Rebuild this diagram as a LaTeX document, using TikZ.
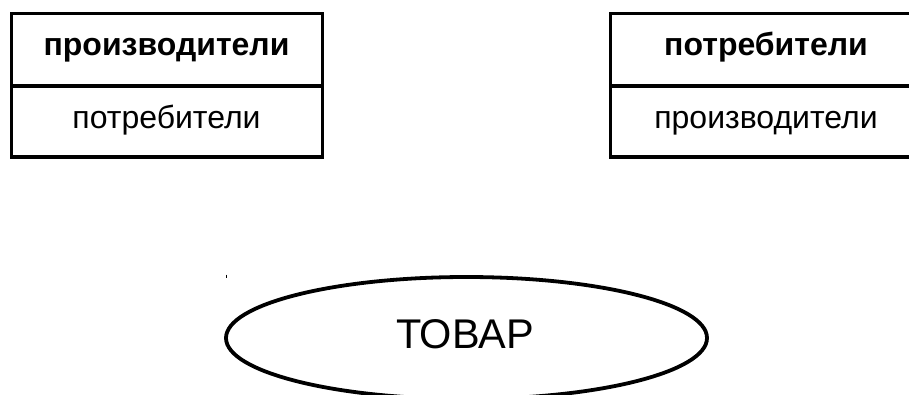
\documentclass[tikz,border=0pt]{standalone}
\usepackage{fontspec}
\setmainfont{Liberation Sans}
\usetikzlibrary{shapes.geometric}
\begin{document}
\begin{tikzpicture}[x=1pt,y=-1pt,
  cell/.style={draw,line width=3.3pt,minimum width=311pt,inner sep=0pt,outer sep=0pt},
  celltext/.style={anchor=base,font=\fontsize{32}{38}\selectfont,inner sep=0pt},
  headtext/.style={celltext,font=\fontsize{32}{38}\selectfont\bfseries},
  oval/.style={draw,line width=3.8pt,ellipse,minimum width=481pt,minimum height=122pt,inner sep=0pt}]
\useasboundingbox (0,0) rectangle (909,394);
\clip (0,0) rectangle (909,394);
% left box
\node[cell,minimum height=72.5pt] (lt) at (166.75,49.75) {};
\node[cell,minimum height=71pt] (lb) at (166.75,121.5) {};
\node[headtext] (ltt) at (166.5,55) {производители};
\node[celltext] (lbt) at (166.5,128) {потребители};
% right box
\node[cell,minimum height=72.5pt] (rt) at (766,49.75) {};
\node[cell,minimum height=71pt] (rb) at (766,121.5) {};
\node[headtext] (rtt) at (766,55) {потребители};
\node[celltext] (rbt) at (766,128) {производители};
% ellipse
\node[oval] (tovar) at (466.5,338) {};
\node[anchor=base,font=\fontsize{41.5}{48}\selectfont,inner sep=0pt] (tovart) at (465,348) {ТОВАР};
\coordinate (m1) at (226.5,274.5);
\coordinate (m2) at (226.5,278);
\draw[line width=1pt] (m1) -- (m2);
\end{tikzpicture}
\end{document}
